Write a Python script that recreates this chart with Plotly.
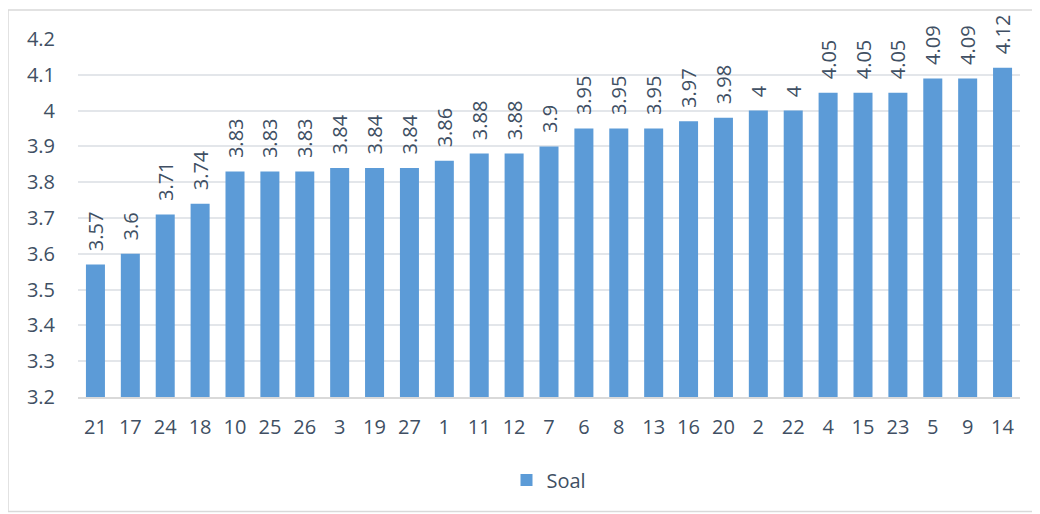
import plotly.graph_objects as go

categories = ['21', '17', '24', '18', '10', '25', '26', '3', '19', '27', '1', '11', '12', '7',
              '6', '8', '13', '16', '20', '2', '22', '4', '15', '23', '5', '9', '14']
soal = [3.57, 3.6, 3.71, 3.74, 3.83, 3.83, 3.83, 3.84, 3.84, 3.84, 3.86, 3.88, 3.88, 3.9,
        3.95, 3.95, 3.95, 3.97, 3.98, 4, 4, 4.05, 4.05, 4.05, 4.09, 4.09, 4.12]
y_ticks = [3.2, 3.3, 3.4, 3.5, 3.6, 3.7, 3.8, 3.9, 4.0, 4.1, 4.2]
y_tick_text = ['3.2', '3.3', '3.4', '3.5', '3.6', '3.7', '3.8', '3.9', '4', '4.1', '4.2']
y_floor = 3.2

# leading non-breaking spaces lift the rotated labels off the bar tops
labels = ['\u00a0\u00a0' + f'{v:g}' for v in soal]

text_color = '#404F63'
font = 'Open Sans, Noto Sans, sans-serif'

fig = go.Figure()

# bars start at the axis floor, so y holds heights above it
fig.add_trace(go.Bar(
    x=categories,
    y=[v - y_floor for v in soal],
    base=y_floor,
    name='Soal',
    marker=dict(color='#5C9BD7', line=dict(width=0)),
    text=labels,
    textposition='outside',
    textangle=-90,
    constraintext='none',
    textfont=dict(size=20, color=text_color, family=font),
    cliponaxis=False,
))

# the page body adds an 8px offset, so the figure is 8px smaller than the window
fig.update_layout(
    width=1032, height=506,
    margin=dict(l=70, r=20, t=31, b=117, autoexpand=False),
    paper_bgcolor='white',
    plot_bgcolor='white',
    bargap=0.455,
    showlegend=True,
    legend=dict(orientation='h', x=0.5, xanchor='center', y=-0.232, yanchor='middle',
                font=dict(size=20, color=text_color, family=font)),
    xaxis=dict(type='category', tickfont=dict(size=20, color=text_color, family=font),
               showline=True, linecolor='#D9D9D9', linewidth=1.5, ticks='',
               ticklabelstandoff=11, automargin=False),
    yaxis=dict(range=[3.2, 4.2], tickvals=y_ticks, ticktext=y_tick_text,
               tickfont=dict(size=20, color=text_color, family=font),
               showgrid=True, gridcolor='#E3E6EA', gridwidth=1.5, zeroline=False,
               ticks='', ticklabelstandoff=22, automargin=False),
)

fig.add_shape(type='rect', xref='paper', yref='paper',
              x0=-0.0743, x1=1.017, y0=-0.32, y1=1.081,
              line=dict(color='#D9D9D9', width=1.5), layer='below')

fig.write_html("out.html")
